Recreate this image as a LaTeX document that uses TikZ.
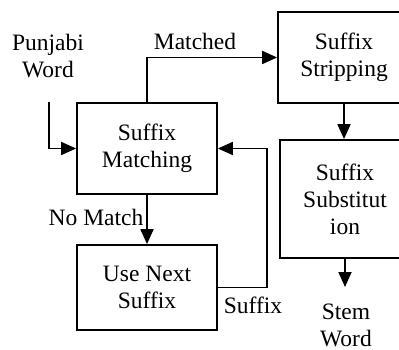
\documentclass[tikz,border=0pt]{standalone}
\usepackage{fontspec}
\setmainfont{Liberation Serif}
\usetikzlibrary{arrows.meta}
\begin{document}
\begin{tikzpicture}[x=1pt,y=-1pt,
  every node/.style={font=\fontsize{23.5}{27}\selectfont, inner sep=0pt, align=center},
  box/.style={draw, line width=1.8pt, anchor=center},
  conn/.style={line width=1.8pt, -{Triangle[length=15pt,width=13pt]}},
  plain/.style={line width=1.8pt}]
\useasboundingbox (0,0) rectangle (399,350);
\node[box, minimum width=140pt, minimum height=91pt] (match) at (147,148.5) {Suffix\\Matching};
\node[box, minimum width=132pt, minimum height=91pt] (strip) at (344,57.5) {Suffix\\Stripping};
\node[box, minimum width=130pt, minimum height=118pt] (subst) at (345,199) {Suffix\\Substitut\\ion};
\node[box, minimum width=140pt, minimum height=85pt] (next) at (147,287.5) {Use Next\\Suffix};
\node (pw) at (48,56) {Punjabi\\Word};
\node (stem) at (346,325) {Stem\\Word};
\node (lmatched) at (195,41) {Matched};
\node (lnomatch) at (96,217) {No Match};
\node (lsuffix) at (253,305) {Suffix};
\coordinate (pwstart) at (49,102);
\coordinate (stemend) at (345,287);
\draw[conn] (pwstart) |- (match.west);
\draw[conn] (match.north) |- (strip.west);
\draw[conn] (strip.south) -- (strip.south |- subst.north);
\draw[conn] (match.south) -- (next.north);
\draw[conn] (next.east) -- ++(49,0) |- (match.east);
\draw[conn] (subst.south -| stemend) -- (stemend);
\end{tikzpicture}
\end{document}
